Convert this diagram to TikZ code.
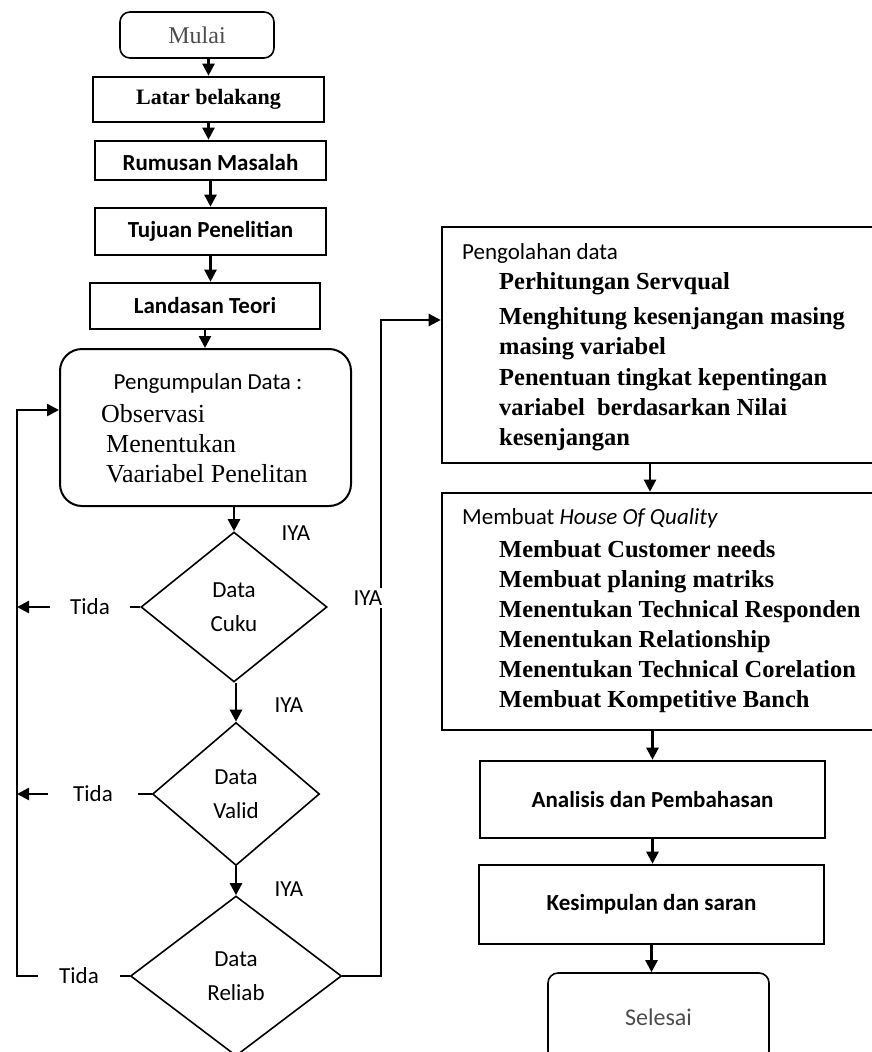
\documentclass[tikz,border=0pt]{standalone}
\usepackage{fontspec}
\setmainfont{Liberation Serif}
\newfontfamily\calfont{Carlito}
\usetikzlibrary{shapes.geometric,arrows.meta}
\begin{document}
\begin{tikzpicture}[x=1pt,y=-1pt,
  box/.style={draw,line width=2.6pt,inner sep=0pt},
  sansb/.style={font=\calfont\bfseries\fontsize{23}{27}\selectfont},
  serb/.style={font=\bfseries\fontsize{22}{26}\selectfont},
  term/.style={draw,line width=1.6pt,rounded corners=10pt,inner sep=0pt},
  dia/.style={draw,diamond,line width=1.6pt,inner sep=0pt,align=center,font=\calfont\fontsize{23}{34}\selectfont},
  lbl/.style={inner sep=0pt,font=\calfont\fontsize{23}{27}\selectfont},
  itm/.style={anchor=west,inner sep=0pt,text height=16pt,text depth=5pt,font=\bfseries\fontsize{24.5}{28}\selectfont},
  srv/.style={anchor=west,inner sep=0pt,text height=17pt,text depth=5pt,font=\fontsize{26}{30}\selectfont},
  conn/.style={line width=2.4pt},
  arr/.style={line width=2.4pt,-{Triangle[length=12pt,width=12pt]}}]
\useasboundingbox (0,0) rectangle (872,1052);

% left column
\node[term,minimum width=154pt,minimum height=46pt,text=black!70,font=\fontsize{24}{28}\selectfont] (mulai) at (197,35) {Mulai};
\node[box,serb,minimum width=231pt,minimum height=45pt] (latar) at (208.5,99.5) {Latar belakang};
\node[box,sansb,minimum width=231pt,minimum height=39pt,text height=20pt,text depth=0pt] (rumusan) at (210.5,160.5) {Rumusan Masalah};
\node[box,sansb,minimum width=231pt,minimum height=47pt] (tujuan) at (210.5,231.5) {Tujuan Penelitian};
\node[box,sansb,minimum width=230pt,minimum height=46pt] (landasan) at (205,306) {Landasan Teori};

\node[draw,line width=2pt,rounded corners=22pt,minimum width=291pt,minimum height=157pt,inner sep=0pt] (kumpul) at (205.5,427.5) {};
\node[lbl] (kumpulT) at (208,383) {Pengumpulan Data :};
\node[srv] (obs) at (101,416) {Observasi};
\node[srv] (men) at (106,446) {Menentukan};
\node[srv] (vaar) at (106,476) {Vaariabel Penelitan};

\node[dia,minimum width=186pt,minimum height=150pt] (d1) at (234,607) {Data\\Cuku};
\node[dia,minimum width=167pt,minimum height=143pt] (d2) at (236,794) {Data\\Valid};
\node[dia,minimum width=211pt,minimum height=160pt] (d3) at (236,976) {Data\\Reliab};

\node[lbl] (iya1) at (296,533) {IYA};
\node[lbl] (iya2) at (289,705) {IYA};
\node[lbl] (iya3) at (289,889) {IYA};

\node[lbl,minimum width=80pt] (t1) at (90,607) {Tida};
\node[lbl,minimum width=90pt] (t2) at (93,794) {Tida};
\node[lbl,minimum width=82pt] (t3) at (79,976) {Tida};

\coordinate (L1) at (17,607);
\coordinate (L2) at (17,794);
\coordinate (L3) at (17,976);
\coordinate (Ltop) at (17,410);

% right column
\node[box,minimum width=440pt,minimum height=236pt] (proc) at (662,345) {};
\node[lbl,anchor=west] (procT) at (462,253) {Pengolahan data};
\node[itm] (p1) at (499,284) {Perhitungan Servqual};
\node[itm] (p2) at (499,319) {Menghitung kesenjangan masing};
\node[itm] (p3) at (499,349) {masing variabel};
\node[itm] (p4) at (499,380) {Penentuan tingkat kepentingan};
\node[itm] (p5) at (499,410) {variabel\ \ berdasarkan Nilai};
\node[itm] (p6) at (499,440) {kesenjangan};

\node[box,minimum width=440pt,minimum height=237pt] (hoq) at (662,611.5) {};
\node[lbl,anchor=west] (hoqT) at (462,518) {Membuat \textit{House Of Quality}};
\node[itm] (h1) at (499,552) {Membuat Customer needs};
\node[itm] (h2) at (499,582) {Membuat planing matriks};
\node[itm] (h3) at (499,612) {Menentukan Technical Responden};
\node[itm] (h4) at (499,642) {Menentukan Relationship};
\node[itm] (h5) at (499,672) {Menentukan Technical Corelation};
\node[itm] (h6) at (499,702) {Membuat Kompetitive Banch};

\node[box,sansb,minimum width=345pt,minimum height=77pt] (ana) at (652.5,799.5) {Analisis dan Pembahasan};
\node[box,sansb,minimum width=345pt,minimum height=79pt] (kes) at (651.5,904.5) {Kesimpulan dan saran};
\node[term,minimum width=221pt,minimum height=88pt,text=black!70,font=\calfont\fontsize{24}{28}\selectfont] (sel) at (658.5,1017) {Selesai};

\coordinate (R) at (381,976);
\coordinate (Rtop) at (381,320);

% connectors
\draw[arr] (latar.north |- mulai.south) -- (latar.north);
\draw[arr] (latar.south) -- (latar.south |- rumusan.north);
\draw[arr] (rumusan.south) -- (rumusan.south |- tujuan.north);
\draw[arr] (tujuan.south) -- (tujuan.south |- landasan.north);
\draw[arr] (landasan.south) -- (landasan.south |- kumpul.north);
\draw[arr] (d1.north |- kumpul.south) -- (d1.north);
\draw[arr] (d2.north |- d1.south) -- (d2.north);
\draw[arr] (d2.south) -- (d3.north);

\draw[conn,line width=1.6pt] (d1.west) -- (t1.east);
\draw[arr] (t1.west) -- (L1);
\draw[conn,line width=1.6pt] (d2.west) -- (t2.east);
\draw[arr] (t2.west) -- (L2);
\draw[conn,line width=1.6pt] (d3.west) -- (t3.east);
\draw[arr] (t3.west) -- (L3) -- (Ltop) -- (Ltop -| kumpul.west);

\draw[arr] (d3.east) -- (R) -- (Rtop) -- (Rtop -| proc.west);
\node[lbl,fill=white,inner sep=3pt] (iya4) at (368,598) {IYA};

\draw[arr] ([xshift=-12pt]proc.south) -- ([xshift=-12pt]hoq.north);
\draw[arr] (ana.north |- hoq.south) -- (ana.north);
\draw[arr] (ana.south) -- (ana.south |- kes.north);
\draw[arr] (kes.south) -- (kes.south |- sel.north);
\end{tikzpicture}
\end{document}
